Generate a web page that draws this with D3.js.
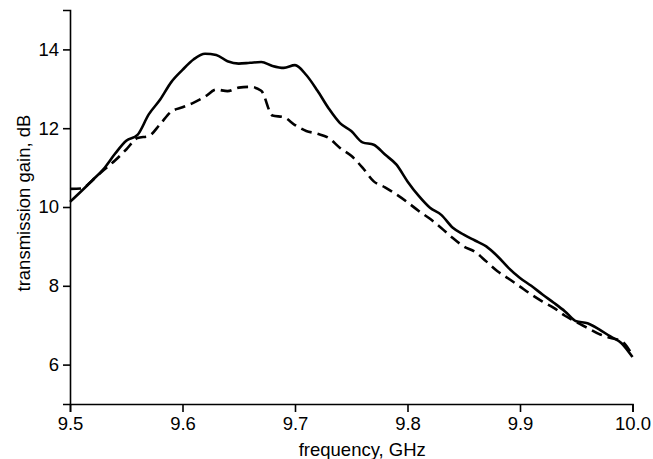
<!DOCTYPE html>
<html>
<head>
<meta charset="utf-8">
<script src="https://cdn.jsdelivr.net/npm/d3@7"></script>
<style>
  body { margin: 0; background: #fff; }
  svg text { font-family: "Liberation Sans", Arial, Helvetica, sans-serif; fill: #000; }
</style>
</head>
<body>
<svg id="chart" width="653" height="459"></svg>
<script>
// frequency grid (GHz)
var freq = [9.50, 9.51, 9.52, 9.53, 9.54, 9.55, 9.56, 9.57, 9.58, 9.59,
            9.60, 9.61, 9.62, 9.63, 9.64, 9.65, 9.66, 9.67, 9.68, 9.69,
            9.70, 9.71, 9.72, 9.73, 9.74, 9.75, 9.76, 9.77, 9.78, 9.79,
            9.80, 9.81, 9.82, 9.83, 9.84, 9.85, 9.86, 9.87, 9.88, 9.89,
            9.90, 9.91, 9.92, 9.93, 9.94, 9.95, 9.96, 9.97, 9.98, 9.99, 10.00];

// solid curve, dB
var gainSolid = [10.13, 10.40, 10.68, 10.97, 11.35, 11.68, 11.83, 12.35, 12.72, 13.17,
                 13.48, 13.75, 13.89, 13.86, 13.70, 13.64, 13.66, 13.68, 13.58, 13.53,
                 13.60, 13.35, 12.95, 12.50, 12.13, 11.93, 11.64, 11.58, 11.33, 11.08,
                 10.65, 10.28, 9.98, 9.80, 9.48, 9.30, 9.15, 9.00, 8.75, 8.45,
                 8.20, 8.00, 7.78, 7.57, 7.35, 7.10, 7.05, 6.90, 6.72, 6.55, 6.19];

// dashed curve, dB
var gainDashed = [10.46, 10.47, 10.68, 10.94, 11.18, 11.46, 11.75, 11.80, 12.10, 12.42,
                  12.53, 12.65, 12.80, 12.98, 12.94, 13.03, 13.05, 12.95, 12.32, 12.28,
                  12.08, 11.93, 11.86, 11.75, 11.50, 11.30, 11.00, 10.65, 10.50, 10.32,
                  10.12, 9.90, 9.70, 9.47, 9.22, 9.00, 8.86, 8.62, 8.37, 8.18,
                  7.98, 7.78, 7.60, 7.44, 7.24, 7.08, 6.93, 6.78, 6.68, 6.60, 6.24];

var xTicks = [9.5, 9.6, 9.7, 9.8, 9.9, 10.0];
var yTicks = [6, 8, 10, 12, 14];

var svg = d3.select('#chart'),
    margin = { left: 70, top: 10 },
    fontSize = 18.5;

var x = d3.scaleLinear().domain([9.5, 10.0]).range([0, 562.5]),
    y = d3.scaleLinear().domain([5, 15]).range([394, 0]);

var g = svg.append('g')
  .attr('transform', 'translate(' + margin.left + ',' + margin.top + ')');

var xAxis = g.append('g')
  .attr('transform', 'translate(0,' + y(5) + ')')
  .call(d3.axisBottom(x).tickValues(xTicks).tickFormat(d3.format('.1f')).tickSizeOuter(0).tickSize(8).tickPadding(5));

var yAxis = g.append('g')
  .call(d3.axisLeft(y).tickValues(yTicks).tickFormat(d3.format('d')).tickSizeOuter(0).tickSize(7).tickPadding(4));

[xAxis, yAxis].forEach(function(ax) {
  ax.select('.domain').attr('stroke', '#000').attr('stroke-width', 1.6);
  ax.selectAll('.tick line').attr('stroke', '#000').attr('stroke-width', 1.6);
  ax.selectAll('.tick text').attr('font-size', fontSize).attr('fill', '#000');
});

var line = function(values) {
  return d3.line()
    .x(function(d, i) { return x(freq[i]); })
    .y(function(d) { return y(d); })
    .curve(d3.curveMonotoneX)(values);
};

g.append('path')
  .attr('d', line(gainSolid))
  .attr('fill', 'none')
  .attr('stroke', '#000')
  .attr('stroke-width', 2.6);

g.append('path')
  .attr('d', line(gainDashed))
  .attr('fill', 'none')
  .attr('stroke', '#000')
  .attr('stroke-width', 2.6)
  .attr('stroke-dasharray', '11,6');

// axis titles
g.append('text')
  .attr('x', x(9.75) + 11)
  .attr('y', y(5) + 52)
  .attr('text-anchor', 'middle')
  .attr('font-size', fontSize)
  .text('frequency, GHz');

g.append('text')
  .attr('transform', 'translate(-40,' + y(10.1) + ') rotate(-90)')
  .attr('text-anchor', 'middle')
  .attr('font-size', fontSize)
  .text('transmission gain, dB');
</script>
</body>
</html>
